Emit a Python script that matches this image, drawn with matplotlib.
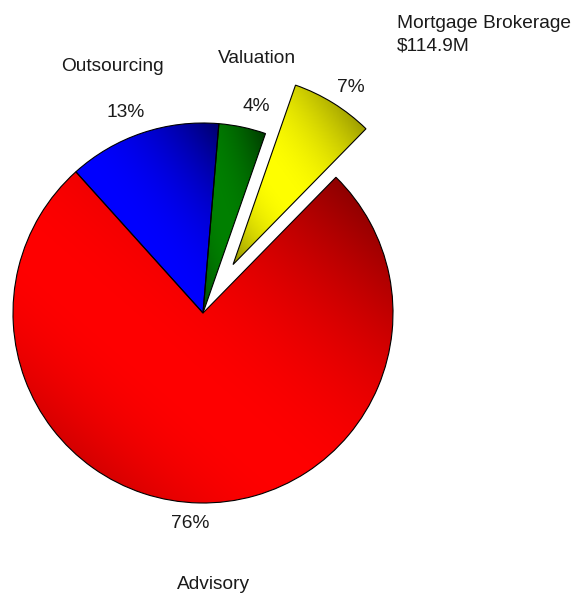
import matplotlib.pyplot as plt
import numpy as np
from matplotlib.colors import to_rgb

# revenue split by business line
segments = ['Mortgage Brokerage', 'Advisory', 'Outsourcing', 'Valuation']
shares = [7, 76, 13, 4]
pct_labels = ['7%', '76%', '13%', '4%']
mortgage_revenue = '$114.9M'

colors = ['#ffff00', '#ff0000', '#0000ff', '#008000']

W, H = 586, 599
R = 190
explode = [0.3 * R, 0, 0, 0]  # pie offsets are in data units

fig = plt.figure(figsize=(W / 100, H / 100), dpi=100)
ax = fig.add_axes([0, 0, 1, 1])

wedges, _ = ax.pie(shares, colors=colors, explode=explode, startangle=70.8,
                   counterclock=False, radius=R, center=(203, H - 313),
                   wedgeprops=dict(edgecolor='black', linewidth=0.8))
ax.axis('off')


def shade(t):
    # darkening factor along the wedge diagonal: bright spot at 40%
    p = 0.4
    m = np.where(t < p, 0.75 * ((t - p) / p) ** 2, ((t - p) / (1 - p)) ** 2)
    return np.clip(m, 0, 1)


# fill each wedge with a diagonal gradient clipped to its outline
for w, c in zip(wedges, colors):
    verts = w.get_patch_transform().transform(w.get_path().vertices)
    x0, y0 = verts.min(axis=0)
    x1, y1 = verts.max(axis=0)
    gx, gy = np.meshgrid(np.linspace(0, 1, 200), np.linspace(0, 1, 200))
    m = shade((gx + gy) / 2)
    base = np.array(to_rgb(c))
    img = base[None, None, :] * (1 - 0.6 * m[..., None])
    im = ax.imshow(img, extent=(x0, x1, y0, y1), origin='lower',
                   interpolation='bilinear', zorder=1, aspect='auto')
    im.set_clip_path(w)
    w.set_facecolor('none')
    w.set_zorder(2)

ax.set_xlim(0, W)
ax.set_ylim(0, H)

# label placement: radius multiples and small angle nudges (degrees)
label_dist = [None, 1.43, 1.38, 1.37]
label_nudge = [0, 3.5, 1.5, 0]
pct_dist = [1.12, 1.11, 1.13, 1.12]
pct_nudge = [-1.7, -2.3, 2.5, -2.5]
font = dict(family='Liberation Sans', fontsize=13.8, color='#1a1a1a')


def at(w, dist, nudge):
    ang = np.deg2rad((w.theta1 + w.theta2) / 2 + nudge)
    cx, cy = w.center
    return cx + np.cos(ang) * R * dist, cy + np.sin(ang) * R * dist


for i, w in enumerate(wedges):
    ax.text(*at(w, pct_dist[i], pct_nudge[i]), pct_labels[i],
            ha='center', va='center', **font)
    if label_dist[i] is not None:
        ax.text(*at(w, label_dist[i], label_nudge[i]), segments[i],
                ha='center', va='center', **font)

ax.text(397, H - 35, segments[0] + '\n' + mortgage_revenue, ha='left', va='center',
        linespacing=1.45, **font)

fig.savefig('out.png', dpi=100, facecolor='white')
